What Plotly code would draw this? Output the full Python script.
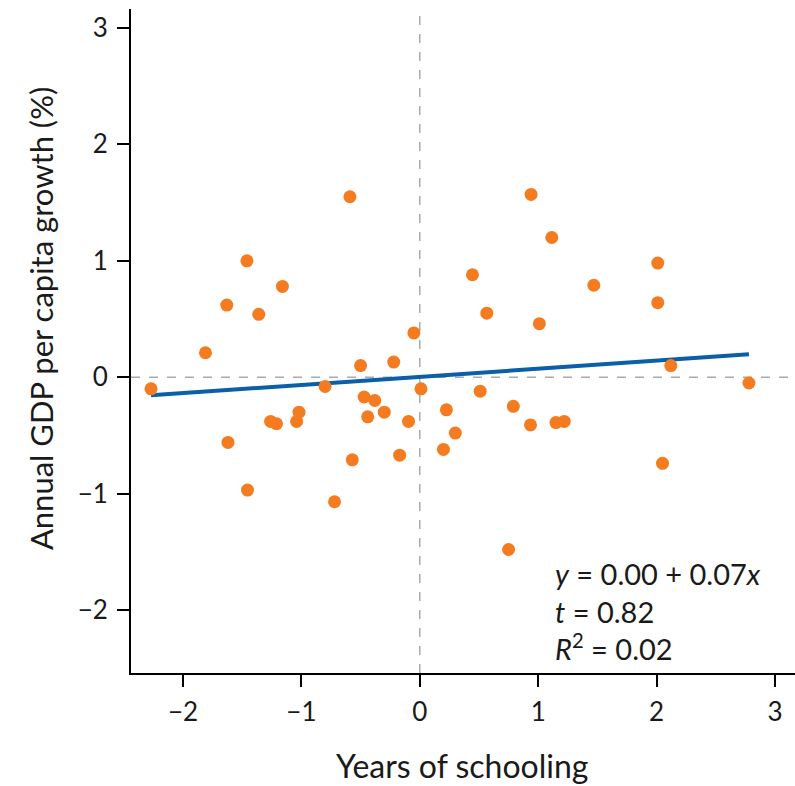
import plotly.graph_objects as go

# Data
schooling = [-2.27, -1.81, -1.63, -1.36, -1.16, -1.46, -1.62, -1.455, -1.26, -1.21,
             -1.02, -1.04, -0.80, -0.72, -0.57, -0.50, -0.47, -0.44, -0.38, -0.30,
             -0.22, -0.17, -0.095, -0.05, 0.01, 0.20, 0.225, -0.59, 0.445, 0.566,
             1.47, 2.01, 1.01, 2.12, 2.78, 0.51, 0.30, 0.79, 0.935, 1.15,
             1.22, 2.05, 0.94, 1.115, 2.01, 0.75]
growth = [-0.10, 0.21, 0.62, 0.54, 0.78, 1.00, -0.56, -0.97, -0.38, -0.40,
          -0.30, -0.38, -0.08, -1.07, -0.71, 0.10, -0.17, -0.34, -0.20, -0.30,
          0.13, -0.67, -0.38, 0.38, -0.10, -0.62, -0.28, 1.55, 0.88, 0.55,
          0.79, 0.64, 0.46, 0.10, -0.05, -0.12, -0.48, -0.25, -0.41, -0.39,
          -0.38, -0.74, 1.57, 1.20, 0.98, -1.48]

fit_x = [-2.27, 2.78]
fit_y = [-0.155, 0.197]

x_ticks = [-2, -1, 0, 1, 2, 3]
x_tick_labels = ["−2", "−1", "0", "1", "2", "3"]
y_ticks = [-2, -1, 0, 1, 2, 3]
y_tick_labels = ["−2", "−1", "0", "1", "2", "3"]

stats_text = "<i>y</i> = 0.00 + 0.07<i>x</i><br><i>t</i> = 0.82<br><i>R</i><sup>2</sup> = 0.02"

FONT = "Lato"
TEXT = "#1a1a1a"
ORANGE = "#f47b20"
BLUE = "#0b5ea8"

fig = go.Figure()
fig.add_trace(go.Scatter(x=fit_x, y=fit_y, mode="lines",
                         line=dict(color=BLUE, width=4), hoverinfo="skip",
                         showlegend=False))
fig.add_trace(go.Scatter(x=schooling, y=growth, mode="markers",
                         marker=dict(color=ORANGE, size=13, line=dict(width=0)),
                         showlegend=False))

# dashed reference lines
fig.add_shape(type="line", xref="x", yref="paper", x0=0, x1=0, y0=0, y1=1,
              line=dict(color="#aaaaaa", width=1.5, dash="dash"), layer="below")
fig.add_shape(type="line", xref="paper", yref="y", x0=0, x1=1, y0=0, y1=0,
              line=dict(color="#aaaaaa", width=1.5, dash="dash"), layer="below")

fig.add_annotation(text=stats_text, xref="paper", yref="paper",
                   x=0.636, y=0.0934, xanchor="left", yanchor="middle",
                   align="left", showarrow=False,
                   font=dict(family=FONT, size=29, color=TEXT))

fig.add_annotation(text="Annual GDP per capita growth (%)", xref="paper", yref="paper",
                   x=-0.1355, y=0.533, xanchor="center", yanchor="middle",
                   textangle=-90, showarrow=False,
                   font=dict(family=FONT, size=31, color=TEXT))
fig.add_annotation(text="Years of schooling", xref="paper", yref="paper",
                   x=0.4992, y=-0.140, xanchor="center", yanchor="middle",
                   showarrow=False,
                   font=dict(family=FONT, size=32, color=TEXT))

axis_common = dict(showgrid=False, zeroline=False, showline=True,
                   linecolor="black", linewidth=2, ticks="outside",
                   ticklen=12, tickwidth=2, tickcolor="black",
                   tickfont=dict(family=FONT, size=26, color=TEXT))

fig.update_xaxes(range=[-2.439, 3.169], tickvals=x_ticks, ticktext=x_tick_labels,
                 ticklabelstandoff=3, **axis_common)
fig.update_yaxes(range=[-2.541, 3.163], tickvals=y_ticks, ticktext=y_tick_labels,
                 ticklabelstandoff=4, **axis_common)

fig.update_layout(width=795, height=786,
                  margin=dict(l=131, r=0, t=9, b=113),
                  plot_bgcolor="white", paper_bgcolor="white",
                  font=dict(family=FONT))

# remove the default page margin so the figure fills the window exactly
fig.write_html("out.html",
               config={"displayModeBar": False},
               post_script="document.body.style.margin='0';"
                           "document.body.style.overflow='hidden';")
